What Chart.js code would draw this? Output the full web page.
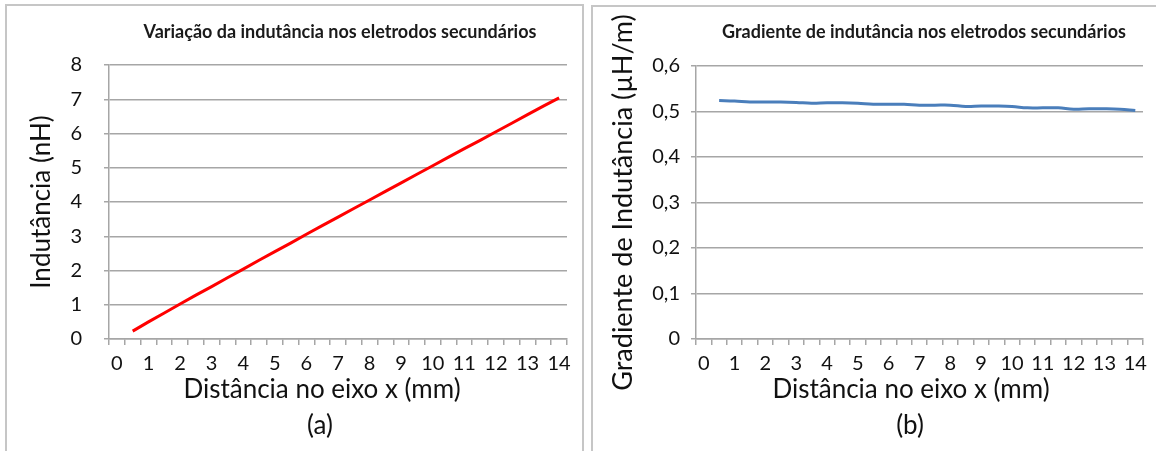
<!DOCTYPE html>
<html><head><meta charset="utf-8">
<script src="https://cdn.jsdelivr.net/npm/chart.js@4.4.1/dist/chart.umd.min.js"></script>
<style>
html,body{margin:0;padding:0;background:#fff;width:1156px;height:451px;overflow:hidden;}
.box{position:absolute;border:2px solid #c6c6c6;box-sizing:border-box;}
.wrap{position:absolute;top:0;}
canvas{display:block;}
</style></head><body>
<div class="box" style="left:5px;top:4px;width:579px;height:470px"></div>
<div class="box" style="left:591px;top:5px;width:590px;height:470px"></div>
<div class="wrap" style="left:0;width:588px;height:451px"><canvas id="ca" width="588" height="451"></canvas></div>
<div class="wrap" style="left:588px;width:568px;height:451px"><canvas id="cb" width="568" height="451"></canvas></div>
<script>
// x categories (mm), every 0.5 mm
const categories = ['0','0,5','1','1,5','2','2,5','3','3,5','4','4,5','5','5,5','6','6,5','7','7,5','8','8,5','9','9,5','10','10,5','11','11,5','12','12,5','13','13,5','14'];
// x tick labels shown (every other category)
const xTickLabels = ['0','1','2','3','4','5','6','7','8','9','10','11','12','13','14'];
// Inductance (nH)
const inductance = [null,0.23,0.50,0.76,1.02,1.28,1.53,1.79,2.04,2.30,2.55,2.80,3.06,3.31,3.56,3.81,4.06,4.31,4.56,4.81,5.06,5.31,5.56,5.80,6.05,6.30,6.55,6.80,7.04];
// Inductance gradient (µH/m)
const gradient = [null,0.524,0.523,0.521,0.521,0.521,0.520,0.518,0.519,0.519,0.518,0.516,0.516,0.516,0.514,0.514,0.514,0.511,0.512,0.512,0.511,0.508,0.508,0.508,0.505,0.506,0.506,0.505,0.502];
// y tick labels
const yTicksA = ['0','1','2','3','4','5','6','7','8'];
const yTicksB = ['0','0,1','0,2','0,3','0,4','0,5','0,6'];

const GRID = '#a6a6a6';
const TXT = '#111111';
const FONT = 'Lato';

const captions = {
  id: 'captions',
  afterDraw(chart, args, o) {
    const ctx = chart.ctx;
    ctx.save();
    ctx.textAlign = 'center';
    ctx.textBaseline = 'middle';
    ctx.fillStyle = '#1a1a1a';
    ctx.font = 'bold ' + o.titleSize + 'px ' + FONT;
    ctx.fillText(o.chartTitle, o.tx, o.ty);
    ctx.fillStyle = TXT;
    ctx.font = o.size + 'px ' + FONT;
    ctx.fillText(o.title, o.x1, o.y1);
    ctx.fillText(o.label, o.x2, o.y2);
    ctx.restore();
  }
};

function makeChart(id, cfg) {
  return new Chart(document.getElementById(id), {
    type: 'line',
    data: {
      labels: categories,
      datasets: [{
        data: cfg.data,
        borderColor: cfg.color,
        borderWidth: 3,
        pointRadius: 0,
        tension: cfg.tension,
        fill: false
      }]
    },
    plugins: [captions],
    options: {
      responsive: false,
      animation: false,
      layout: { padding: { left: 0, right: cfg.padRight, top: cfg.top, bottom: 0 } },
      plugins: {
        legend: { display: false },
        tooltip: { enabled: false },
        title: { display: false },
        captions: cfg.captions
      },
      scales: {
        x: {
          type: 'category',
          offset: true,
          grid: { display: true, offset: true, drawOnChartArea: false, drawTicks: true, tickLength: 6, color: GRID, lineWidth: 1.5 },
          border: { display: true, color: GRID, width: 1.5 },
          ticks: {
            autoSkip: false, maxRotation: 0, minRotation: 0,
            color: TXT, padding: 7,
            font: { family: FONT, size: 20 },
            callback: (v, i) => (i % 2 === 0 ? xTickLabels[i / 2] : '')
          },
          afterFit: s => { s.height = 451 - cfg.bottom; }
        },
        y: {
          min: 0, max: cfg.ymax,
          grid: { color: GRID, lineWidth: 1.5, tickLength: 5 },
          border: { display: true, color: GRID, width: 1.5 },
          ticks: {
            stepSize: cfg.step, color: TXT, padding: cfg.tickPad,
            font: { family: FONT, size: 20 },
            callback: (v, i) => cfg.yTicks[i]
          },
          title: {
            display: true, text: cfg.yTitle, color: TXT,
            font: { family: FONT, size: cfg.yTitleSize, lineHeight: 1.2 },
            padding: { top: cfg.yTitlePad, bottom: 0 }
          },
          afterFit: s => { s.width = cfg.left; }
        }
      }
    }
  });
}

makeChart('ca', {
  data: inductance, color: '#ff0000', tension: 0,
  padRight: 21, top: 65, bottom: 339, left: 109,
  ymax: 8, step: 1, yTicks: yTicksA, tickPad: 22,
  yTitle: 'Indutância (nH)', yTitlePad: 26, yTitleSize: 26,
  captions: {
    chartTitle: 'Variação da indutância nos eletrodos secundários', tx: 340, ty: 32, titleSize: 18,
    title: 'Distância no eixo x (mm)', label: '(a)', x1: 322, y1: 390, x2: 320, y2: 426, size: 26
  }
});

makeChart('cb', {
  data: gradient, color: '#4a7ebb', tension: 0.4,
  padRight: 13, top: 66, bottom: 339, left: 108,
  ymax: 0.6, step: 0.1, yTicks: yTicksB, tickPad: 11,
  yTitle: 'Gradiente de Indutância (µH/m)', yTitlePad: 19, yTitleSize: 27,
  captions: {
    chartTitle: 'Gradiente de indutância nos eletrodos secundários', tx: 336, ty: 32, titleSize: 18,
    title: 'Distância no eixo x (mm)', label: '(b)', x1: 323, y1: 390, x2: 322, y2: 426, size: 26
  }
});
</script>
</body></html>
